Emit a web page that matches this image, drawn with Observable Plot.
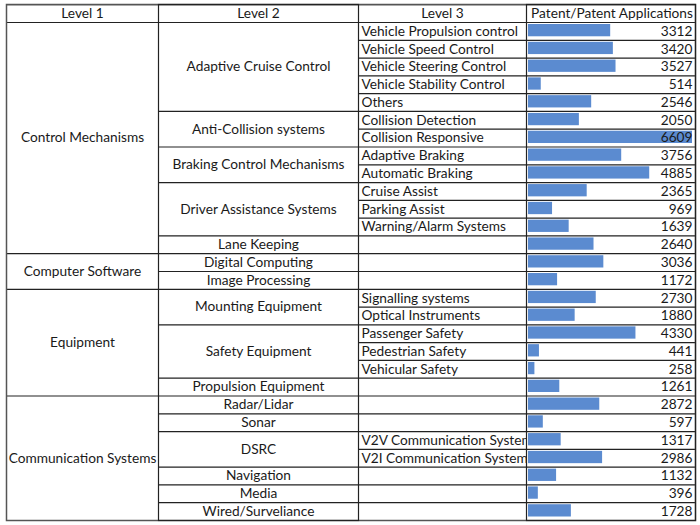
<!DOCTYPE html>
<html><head><meta charset="utf-8">
<script src="https://cdn.jsdelivr.net/npm/d3@7"></script>
<script src="https://cdn.jsdelivr.net/npm/@observablehq/plot@0.6"></script>
<style>body{margin:0;background:#fff}</style>
</head><body><div id="chart"></div>
<script>
const headers = ["Level 1", "Level 2", "Level 3", "Patent/Patent Applications"];
const level1Names = ["Control Mechanisms", "Computer Software", "Equipment", "Communication Systems"];
const level1Spans = [13, 2, 6, 7];
const level2Names = ["Adaptive Cruise Control", "Anti-Collision systems", "Braking Control Mechanisms",
  "Driver Assistance Systems", "Lane Keeping", "Digital Computing", "Image Processing",
  "Mounting Equipment", "Safety Equipment", "Propulsion Equipment", "Radar/Lidar", "Sonar",
  "DSRC", "Navigation", "Media", "Wired/Surveliance"];
const level2Spans = [5, 2, 2, 3, 1, 1, 1, 2, 3, 1, 1, 1, 2, 1, 1, 1];
const level3Names = ["Vehicle Propulsion control", "Vehicle Speed Control", "Vehicle Steering Control",
  "Vehicle Stability Control", "Others", "Collision Detection", "Collision Responsive",
  "Adaptive Braking", "Automatic Braking", "Cruise Assist", "Parking Assist", "Warning/Alarm Systems",
  "", "", "", "Signalling systems", "Optical Instruments", "Passenger Safety", "Pedestrian Safety",
  "Vehicular Safety", "", "", "", "V2V Communication System", "V2I Communication Systems", "", "", ""];
const patents = [3312, 3420, 3527, 514, 2546, 2050, 6609, 3756, 4885, 2365, 969, 1639, 2640,
  3036, 1172, 2730, 1880, 4330, 441, 258, 1261, 2872, 597, 1317, 2986, 1132, 396, 1728];

// derived tables
function spansToCells(names, spans) {
  let s = 0;
  return names.map((name, i) => { const c = {name, start: s, end: s + spans[i]}; s += spans[i]; return c; });
}
const l1 = spansToCells(level1Names, level1Spans);
const l2 = spansToCells(level2Names, level2Spans);
const rows = patents.map((v, i) => ({i, name: level3Names[i], value: v}));
const n = rows.length;
const l1B = new Set(l1.flatMap(c => [c.start, c.end]));
const l2B = new Set(l2.flatMap(c => [c.start, c.end]));
const bounds = d3.range(0, n + 1).map(b => ({b, kind: l1B.has(b) ? 0 : l2B.has(b) ? 1 : 2}));
bounds.push({b: -1, kind: 0});

const W = 700, H = 525;
const colEdges = [6, 158, 358, 526, 695];
const font = {fontFamily: "Lato, 'Open Sans', sans-serif", fontSize: 13.7};
const ink = "#1a1a1a", line = "#222";

const headerMarks = headers.map((h, i) => Plot.text([h], {
  y: () => -0.5, text: d => d, frameAnchor: "left", dx: (colEdges[i] + colEdges[i + 1]) / 2 + (i === 3 ? 1 : 0),
  textAnchor: "middle", fill: ink, ...font
}));

const chart = Plot.plot({
  width: W, height: H,
  marginTop: 4, marginBottom: 5, marginLeft: 0, marginRight: 0,
  x: {domain: [0, 6609], range: [528, 692], axis: null},
  y: {domain: [0, n], range: [22, 520], axis: null},
  marks: [
    Plot.text(rows.filter(d => d.name), {y: d => d.i + 0.5, text: "name", frameAnchor: "left", dx: colEdges[2] + 3, textAnchor: "start", fill: ink, ...font}),
    Plot.frame({fill: "white", stroke: null, insetLeft: colEdges[3], insetRight: W - colEdges[4]}),
    Plot.rectX(rows, {x1: 0, x2: "value", y1: "i", y2: d => d.i + 1, insetTop: 2, insetBottom: 3.5, fill: "#5b8bd0"}),
    Plot.text(l1, {y: d => (d.start + d.end) / 2, text: "name", frameAnchor: "left", dx: (colEdges[0] + colEdges[1]) / 2, textAnchor: "middle", fill: ink, ...font}),
    Plot.text(l2, {y: d => (d.start + d.end) / 2, text: "name", frameAnchor: "left", dx: (colEdges[1] + colEdges[2]) / 2, textAnchor: "middle", fill: ink, ...font}),
    Plot.text(rows, {y: d => d.i + 0.5, text: d => String(d.value), frameAnchor: "right", dx: -(W - 692), textAnchor: "end", fill: ink, ...font}),
    ...headerMarks,
    Plot.ruleY(bounds.filter(d => d.kind === 0), {y: "b", insetLeft: colEdges[0], insetRight: W - colEdges[4], stroke: line, strokeWidth: 1.2}),
    Plot.ruleY(bounds.filter(d => d.kind === 1), {y: "b", insetLeft: colEdges[1], insetRight: W - colEdges[4], stroke: line, strokeWidth: 1.2}),
    Plot.ruleY(bounds.filter(d => d.kind === 2), {y: "b", insetLeft: colEdges[2], insetRight: W - colEdges[4], stroke: line, strokeWidth: 1.2}),
    Plot.frame({stroke: "#555", strokeWidth: 1.5, insetLeft: colEdges[0], insetRight: W - colEdges[4]}),
    Plot.frame({stroke: line, strokeWidth: 1.2, insetLeft: colEdges[1], insetRight: W - colEdges[2]}),
    Plot.frame({stroke: line, strokeWidth: 1.2, insetLeft: colEdges[3], insetRight: W - colEdges[4]})
  ]
});
document.getElementById("chart").append(chart);
</script>
</body></html>
